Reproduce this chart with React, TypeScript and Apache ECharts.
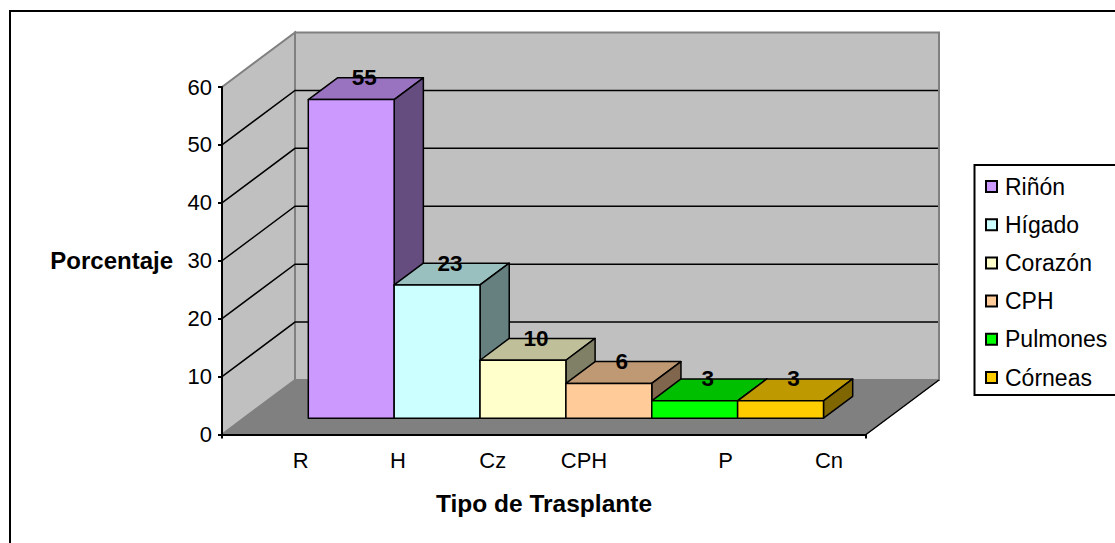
import React, { useEffect, useRef } from "react";
import * as echarts from "echarts";

const categories = ["R", "H", "Cz", "CPH", "P", "Cn"];
const organs = ["Riñón", "Hígado", "Corazón", "CPH", "Pulmones", "Córneas"];
const percentages = [55, 23, 10, 6, 3, 3];
const gridValues = [10, 20, 30, 40, 50];
const organColors = ["#CC99FF", "#CCFFFF", "#FFFFCC", "#FFCC99", "#00FF00", "#FFCC00"];
const labelShifts = [25, 15, 2.4, -13.7, 20.7, 16.7];

const FONT = '"Liberation Sans", Arial, sans-serif';
const DEPTH_X = 73;
const DEPTH_Y = -54.5;
const BAR_RATIO = 0.8;

function shade(hex: string, f: number) {
  const n = parseInt(hex.slice(1), 16);
  const c = [(n >> 16) & 255, (n >> 8) & 255, n & 255].map((v) => Math.round(v * f));
  return `rgb(${c[0]},${c[1]},${c[2]})`;
}

const wallsRender = (params: any, api: any) => {
  const { x, y, width: w, height: h } = params.coordSys;
  const b = y + h;
  const r = x + w;
  const dx = DEPTH_X;
  const dy = DEPTH_Y;
  const gray = "#808080";
  return {
    type: "group",
    children: [
      { type: "polygon", shape: { points: [[x + dx, y + dy], [r + dx, y + dy], [r + dx, b + dy], [x + dx, b + dy]] }, style: { fill: "#C0C0C0", stroke: gray, lineWidth: 2 } },
      { type: "polygon", shape: { points: [[x, y], [x + dx, y + dy], [x + dx, b + dy], [x, b]] }, style: { fill: "#C0C0C0", stroke: gray, lineWidth: 2 } },
      { type: "polygon", shape: { points: [[x, b], [r, b], [r + dx, b + dy], [x + dx, b + dy]] }, style: { fill: gray, stroke: gray, lineWidth: 1 } },
      { type: "line", shape: { x1: r, y1: b, x2: r + dx, y2: b + dy }, style: { stroke: "#000", lineWidth: 1.5 } },
      { type: "line", shape: { x1: x, y1: b, x2: x, y2: b + 4 }, style: { stroke: "#000", lineWidth: 2 } },
      { type: "line", shape: { x1: r, y1: b, x2: r, y2: b + 4 }, style: { stroke: "#000", lineWidth: 2 } },
    ],
  };
};

const gridRender = (params: any, api: any) => {
  const { x, width: w } = params.coordSys;
  const p = api.coord([0, api.value(1)]);
  const yy = p[1];
  return {
    type: "polyline",
    shape: { points: [[x, yy], [x + DEPTH_X, yy + DEPTH_Y], [x + w + DEPTH_X - 1, yy + DEPTH_Y]] },
    style: { stroke: "#000", lineWidth: 1.5, fill: "none" },
  };
};

const barRender = (color: string) => (params: any, api: any) => {
  const cs = params.coordSys;
  const mid = cs.x + cs.width / 2;
  const band = api.size([1, 0])[0] * BAR_RATIO;
  const top = api.coord([api.value(0), api.value(1)]);
  const base = api.coord([api.value(0), 0]);
  const gapX = DEPTH_X * 0.3;
  const gapY = DEPTH_Y * 0.3;
  const barX = DEPTH_X * 0.4;
  const barY = DEPTH_Y * 0.4;
  const cx = mid + (top[0] - mid) * BAR_RATIO + gapX;
  const l = cx - band / 2;
  const r = cx + band / 2;
  const t = top[1] + gapY;
  const b = base[1] + gapY;
  const stroke = { stroke: "#000", lineWidth: 1.5, lineJoin: "round" };
  return {
    type: "group",
    children: [
      { type: "polygon", shape: { points: [[l, t], [r, t], [r + barX, t + barY], [l + barX, t + barY]] }, style: { fill: shade(color, 0.75), ...stroke } },
      { type: "polygon", shape: { points: [[r, t], [r + barX, t + barY], [r + barX, b + barY], [r, b]] }, style: { fill: shade(color, 0.5), ...stroke } },
      { type: "rect", shape: { x: l, y: t, width: r - l, height: b - t }, style: { fill: color, ...stroke } },
      { type: "text", style: { text: String(api.value(1)), x: cx + 13, y: t + barY, align: "center", verticalAlign: "middle", font: `bold 22.5px ${FONT}`, fill: "#000" } },
    ],
  };
};

export default function App() {
  const ref = useRef<HTMLDivElement>(null);
  useEffect(() => {
    const chart = echarts.init(ref.current!, undefined, { renderer: "svg" });
    chart.setOption({
      animation: false,
      backgroundColor: "#fff",
      textStyle: { fontFamily: FONT },
      grid: { left: 222, top: 87, width: 644, height: 347.5, containLabel: false },
      graphic: [
        { type: "rect", z: 0, shape: { x: 10, y: 11, width: 1300, height: 700 }, style: { fill: "#fff", stroke: "#000", lineWidth: 2 } },
        { type: "rect", z: 1, shape: { x: 974.5, y: 165, width: 300, height: 230 }, style: { fill: "#fff", stroke: "#000", lineWidth: 2 } },
      ],
      legend: {
        orient: "vertical",
        left: 985,
        top: 175,
        padding: 0,
        icon: "rect",
        itemWidth: 11,
        itemHeight: 11,
        itemGap: 15.2,
        data: organs,
        selectedMode: false,
        itemStyle: { borderColor: "#000", borderWidth: 2 },
        textStyle: { fontFamily: FONT, fontSize: 23, color: "#000", padding: [0, 0, 0, 3] },
      },
      xAxis: {
        type: "category",
        data: categories.map((c, i) => ({
          value: c,
          textStyle: { padding: labelShifts[i] >= 0 ? [0, 0, 0, 2 * labelShifts[i]] : [0, -2 * labelShifts[i], 0, 0] },
        })),
        z: 5,
        name: "Tipo de Trasplante",
        nameLocation: "middle",
        nameGap: 56,
        nameTextStyle: { fontFamily: FONT, fontWeight: "bold", fontSize: 24.5, color: "#000" },
        axisLine: { lineStyle: { color: "#000", width: 2 } },
        axisTick: { show: false },
        axisLabel: { interval: 0, color: "#000", fontFamily: FONT, fontSize: 22, margin: 15 },
      },
      yAxis: {
        type: "value",
        min: 0,
        max: 60,
        interval: 10,
        z: 5,
        name: "Porcentaje",
        nameLocation: "middle",
        nameRotate: 0,
        nameGap: 49,
        nameTextStyle: { fontFamily: FONT, fontWeight: "bold", fontSize: 24, color: "#000" },
        axisLine: { show: true, lineStyle: { color: "#000", width: 2 } },
        axisTick: { show: true, length: 4, lineStyle: { color: "#000", width: 2 } },
        axisLabel: { color: "#000", fontFamily: FONT, fontSize: 22, margin: 10 },
        splitLine: { show: false },
      },
      series: [
        { type: "custom", name: "walls", z: 1, silent: true, clip: false, data: [[0, 0]], renderItem: wallsRender },
        { type: "custom", name: "gridlines", z: 1, silent: true, clip: false, data: gridValues.map((v) => [0, v]), renderItem: gridRender },
        ...organs.map((name, i) => ({
          type: "custom",
          name,
          z: 2,
          clip: false,
          itemStyle: { color: organColors[i] },
          data: [[i, percentages[i]]],
          renderItem: barRender(organColors[i]),
        })),
      ],
    });
    return () => chart.dispose();
  }, []);
  return <div ref={ref} style={{ position: "fixed", left: 0, top: 0, width: 1115, height: 543 }} />;
}
